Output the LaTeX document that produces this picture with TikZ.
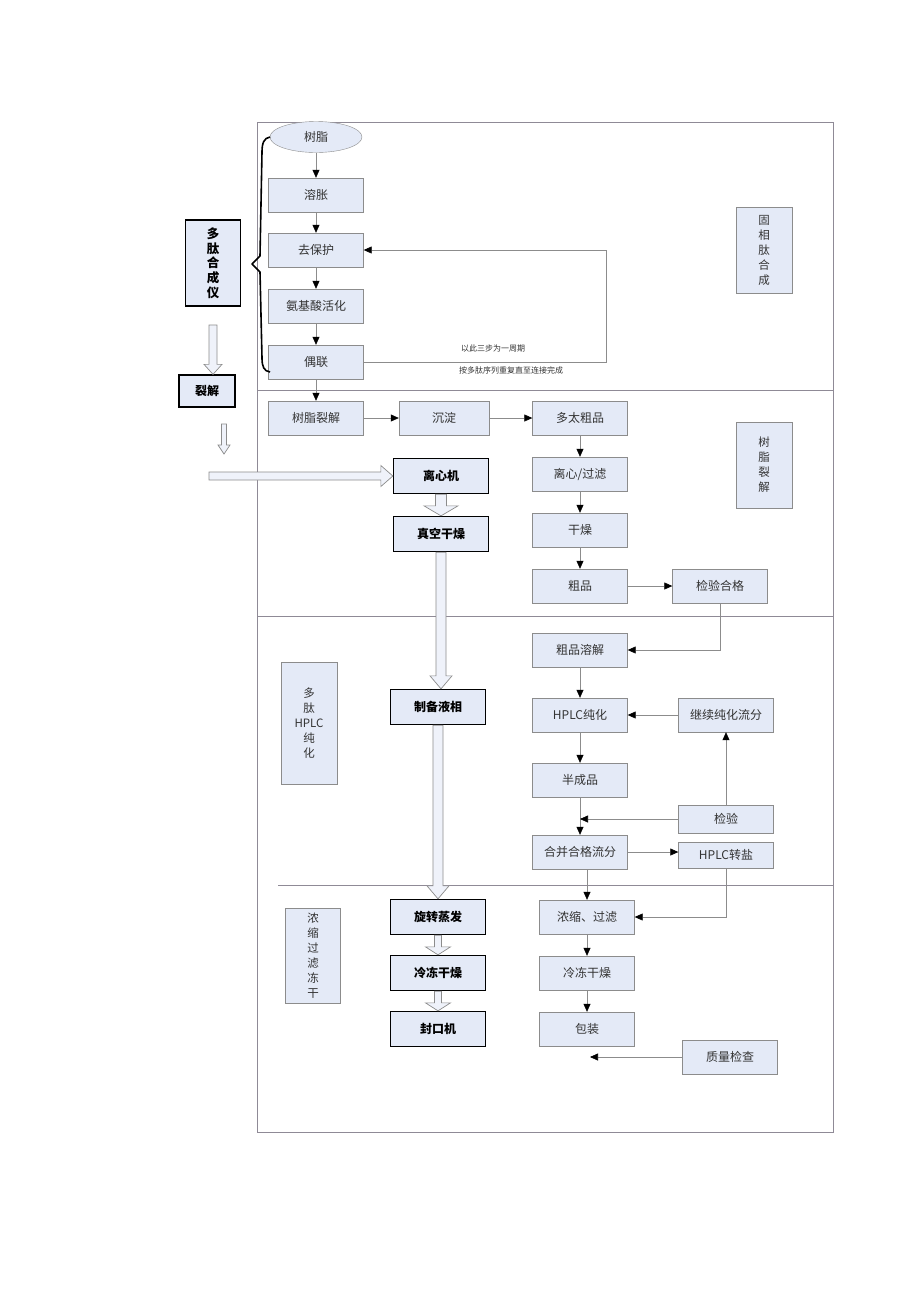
\documentclass[tikz,border=0pt]{standalone}
\usepackage{fontspec}
\setmainfont{Noto Sans CJK SC}
\usetikzlibrary{arrows.meta, shapes.geometric, calc, positioning}

\definecolor{boxfill}{HTML}{E4EAF7}
\definecolor{boxline}{HTML}{8C8C8C}
\definecolor{textgray}{HTML}{333333}
\definecolor{frameline}{HTML}{8F8A96}

\newcommand{\hollowdown}[5]{%
  \draw[fatarrow] let \p1=(#1), \p2=(#2) in
    (\x1-#3,\y1) -- (\x1-#3,\y2+#5) -- (\x1-#4,\y2+#5) -- (\x1,\y2)
    -- (\x1+#4,\y2+#5) -- (\x1+#3,\y2+#5) -- (\x1+#3,\y1) -- cycle;}

\begin{document}
\begin{tikzpicture} [
						x=1pt, y=-1pt,
						stepnode/.style={draw=boxline, fill=boxfill, minimum width=95pt, minimum height=34pt, inner sep=0pt, text=textgray, font=\fontsize{12}{13}\selectfont},
						machine/.style={draw=black, line width=1.3pt, fill=boxfill, minimum width=95pt, minimum height=35pt, inner sep=0pt, font=\fontsize{12}{14}\selectfont\bfseries},
						sidelabel/.style={draw=boxline, fill=boxfill, minimum width=56pt, inner sep=0pt, align=center, text=textgray, font=\fontsize{11.5}{15}\selectfont},
						flow/.style={draw=boxline, line width=0.6pt, -{Triangle[length=8pt, width=7pt, color=black]}},
						fatarrow/.style={draw=boxline, fill=boxfill!60!white, line width=0.7pt},
						note/.style={text=textgray, font=\fontsize{8}{10}\selectfont}
					]
\useasboundingbox (0,0) rectangle (920,1302);

\draw[frameline, line width=0.6pt] (257,122) rectangle (833,1132);
\draw[frameline, line width=0.6pt] (257,390) -- (833,390);
\draw[frameline, line width=0.6pt] (257,616) -- (833,616);
\draw[frameline, line width=0.6pt] (278,885) -- (833,885);

\node (shuzhi) [ellipse, draw=boxline, fill=boxfill, minimum width=92pt, minimum height=31pt, inner sep=0pt, text=textgray, font=\fontsize{12}{13}\selectfont] at (316,137) {树脂};
\node (rongzhang) [stepnode] at (316,195) {溶胀};
\node (qubaohu) [stepnode] at (316,250) {去保护};
\node (anjisuan) [stepnode] at (316,306) {氨基酸活化};
\node (oulian) [stepnode] at (316,362) {偶联};
\node (shuzhilj) [stepnode] at (316,418) {树脂裂解};
\node (chendian) [stepnode, minimum width=90pt] at (444,418) {沉淀};
\node (duotaicp) [stepnode] at (580,418) {多太粗品};
\node (lixingl) [stepnode] at (580,474) {离心/过滤};
\node (ganzao) [stepnode] at (580,530) {干燥};
\node (cupin) [stepnode] at (580,586) {粗品};
\node (jianyanhg) [stepnode] at (720,586) {检验合格};
\node (cupinrj) [stepnode] at (580,650) {粗品溶解};
\node (hplcch) [stepnode] at (580,715) {HPLC纯化};
\node (jixuch) [stepnode] at (726,715) {继续纯化流分};
\node (banchp) [stepnode] at (580,780) {半成品};
\node (jianyan) [stepnode, minimum height=28pt] at (726,819) {检验};
\node (hebing) [stepnode] at (580,852) {合并合格流分};
\node (hplczy) [stepnode, minimum height=26pt] at (726,855) {HPLC转盐};
\node (nongsuo) [stepnode] at (587,917) {浓缩、过滤};
\node (lengdongr) [stepnode] at (587,973) {冷冻干燥};
\node (baozhuang) [stepnode] at (587,1029) {包装};
\node (zhiliang) [stepnode] at (730,1057) {质量检查};
\coordinate (zlend) at (590,1057);

\node (hechengyi) [machine, minimum width=55pt, minimum height=86pt, align=center, font=\fontsize{12.5}{14.7}\selectfont\bfseries] at (213,263) {多\\肽\\合\\成\\仪};
\node (liejie) [machine, minimum width=56pt, minimum height=32pt] at (207,391) {裂解};
\node (lixinji) [machine] at (441,476) {离心机};
\node (zhenkong) [machine] at (441,534) {真空干燥};
\node (zhibei) [machine] at (438,707) {制备液相};
\node (xuanzhuan) [machine] at (438,917) {旋转蒸发};
\node (lengdongl) [machine] at (438,973) {冷冻干燥};
\node (fengkou) [machine] at (438,1029) {封口机};

\node (guxiang) [sidelabel, minimum height=86pt] at (764,250) {固\\相\\肽\\合\\成};
\node (liejieside) [sidelabel, minimum height=86pt] at (764,465) {树\\脂\\裂\\解};
\node (hplcside) [sidelabel, minimum height=122pt] at (309,723) {多\\肽\\HPLC\\纯\\化};
\node (nongsuoside) [sidelabel, minimum width=55pt, minimum height=95pt] at (313,956) {浓\\缩\\过\\滤\\冻\\干};

\node (zhouqi) [note] at (493,348) {以此三步为一周期};
\node (chongfu) [note] at (511,370) {按多肽序列重复直至连接完成};

\path[flow]
	(shuzhi) edge (rongzhang)
	(rongzhang) edge (qubaohu)
	(qubaohu) edge (anjisuan)
	(anjisuan) edge (oulian)
	(oulian) edge (shuzhilj)
	(shuzhilj) edge (chendian)
	(chendian) edge (duotaicp)
	(duotaicp) edge (lixingl)
	(lixingl) edge (ganzao)
	(ganzao) edge (cupin)
	(cupin) edge (jianyanhg)
	(cupinrj) edge (hplcch)
	(hplcch) edge (banchp)
	(banchp) edge (hebing)
	(jixuch) edge (hplcch)
	(jianyan) edge (jixuch)
	(nongsuo) edge (lengdongr)
	(lengdongr) edge (baozhuang)
	(zhiliang) edge (zlend);
\draw[flow] (oulian.east) -- ++(243,0) |- (qubaohu.east);
\draw[flow] (jianyanhg.south) |- (cupinrj.east);
\draw[flow] (jianyan.west) -- (jianyan.west -| banchp.south);
\draw[flow] (hebing.east) -- (hebing.east -| hplczy.west);
\draw[flow] (nongsuo.north |- hebing.south) -- (nongsuo.north);
\draw[flow] (hplczy.south) |- (nongsuo.east);

\draw[line width=1.6pt, line join=round] (270,137) .. controls (264,138) and (262,143) .. (262,152) -- (260,256) -- (252,264) -- (260,272) -- (262,358) .. controls (262,367) and (264,371) .. (270,372);

\coordinate (hctop) at (213,325);
\coordinate (ljtop) at (224,424);
\coordinate (ljtip) at (224,454);
\coordinate (hstart) at (209,476);
\hollowdown{hctop}{hctop |- liejie.north}{4}{9}{10}
\hollowdown{ljtop}{ljtip}{2.5}{6}{9}
\draw[fatarrow] let \p1=(hstart), \p2=(lixinji.west) in
	(\x1,\y2+4) -- (\x2-12,\y2+4) -- (\x2-12,\y2+10.5) -- (\x2,\y2)
	-- (\x2-12,\y2-10.5) -- (\x2-12,\y2-4) -- (\x1,\y2-4) -- cycle;
\hollowdown{lixinji.south}{zhenkong.north}{5.5}{17}{10}
\hollowdown{zhenkong.south}{zhibei.north}{5}{11}{13}
\hollowdown{zhibei.south}{xuanzhuan.north}{5}{11}{13}
\hollowdown{xuanzhuan.south}{lengdongl.north}{3.5}{12.5}{8}
\hollowdown{lengdongl.south}{fengkou.north}{3.5}{12.5}{8}
\end{tikzpicture}
\end{document}
